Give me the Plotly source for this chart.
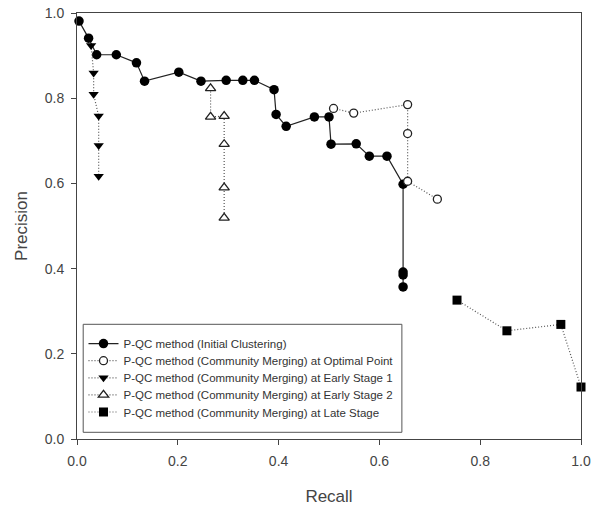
import plotly.graph_objects as go

# Initial clustering
init_x = [0.004, 0.023, 0.039, 0.078, 0.118, 0.134, 0.202, 0.246, 0.296, 0.329, 0.352,
          0.391, 0.395, 0.415, 0.471, 0.500, 0.504, 0.554, 0.580, 0.615, 0.647, 0.647, 0.647, 0.647]
init_y = [0.981, 0.941, 0.902, 0.902, 0.883, 0.840, 0.861, 0.840, 0.842, 0.842, 0.842,
          0.820, 0.762, 0.734, 0.756, 0.756, 0.692, 0.693, 0.664, 0.664, 0.598, 0.392, 0.385, 0.357]

# Community merging at optimal point
opt_x = [0.509, 0.549, 0.656, 0.656, 0.656, 0.715]
opt_y = [0.776, 0.765, 0.785, 0.717, 0.605, 0.563]

# Early stage 1
e1_x = [0.028, 0.033, 0.033, 0.043, 0.043, 0.043]
e1_y = [0.924, 0.859, 0.809, 0.758, 0.689, 0.617]

# Early stage 2
e2_x = [0.265, 0.265, 0.292, 0.292, 0.292, 0.292]
e2_y = [0.823, 0.756, 0.758, 0.692, 0.590, 0.519]

# Late stage
late_x = [0.754, 0.853, 0.960, 1.000]
late_y = [0.326, 0.254, 0.269, 0.122]

names = [
    "P-QC method (Initial Clustering)",
    "P-QC method (Community Merging) at Optimal Point",
    "P-QC method (Community Merging) at Early Stage 1",
    "P-QC method (Community Merging) at Early Stage 2",
    "P-QC method (Community Merging) at Late Stage",
]

FONT = "Liberation Sans, Arial, sans-serif"
dot_line = dict(color="#555555", width=1.2, dash="1px,2px")
legend_ids = ["legend", "legend2", "legend3", "legend4", "legend5"]

fig = go.Figure()
fig.add_trace(go.Scatter(x=init_x, y=init_y, mode="lines+markers", name=names[0],
                         legend=legend_ids[0], cliponaxis=False,
                         line=dict(color="#222222", width=1.2),
                         marker=dict(symbol="circle", size=9.5, color="black")))
fig.add_trace(go.Scatter(x=opt_x, y=opt_y, mode="lines+markers", name=names[1],
                         legend=legend_ids[1], cliponaxis=False,
                         line=dot_line,
                         marker=dict(symbol="circle", size=8, color="white",
                                     line=dict(color="#222222", width=1.3))))
fig.add_trace(go.Scatter(x=e1_x, y=e1_y, mode="lines+markers", name=names[2],
                         legend=legend_ids[2], cliponaxis=False,
                         line=dot_line,
                         marker=dict(symbol="triangle-down", size=9, color="black")))
fig.add_trace(go.Scatter(x=e2_x, y=e2_y, mode="lines+markers", name=names[3],
                         legend=legend_ids[3], cliponaxis=False,
                         line=dot_line,
                         marker=dict(symbol="triangle-up", size=9, color="white",
                                     line=dict(color="#222222", width=1.3))))
fig.add_trace(go.Scatter(x=late_x, y=late_y, mode="lines+markers", name=names[4],
                         legend=legend_ids[4], cliponaxis=False,
                         line=dot_line,
                         marker=dict(symbol="square", size=9, color="black")))

axis_common = dict(
    showline=True, linecolor="#444444", linewidth=1, mirror=True,
    ticks="outside", ticklen=5, tickcolor="#444444",
    showgrid=False, zeroline=False, automargin=False,
    ticklabeloverflow="allow",
    tickfont=dict(family=FONT, size=14, color="#444444"),
    title_font=dict(family=FONT, size=17, color="#444444"),
)

# page geometry (body margin removed by the post script)
W, H = 600, 507
PL, PR, PT, PB = 76.5, 581.0, 12.7, 438.7
L, T = PL, PT
R, B = W - PR, H - PB
pw, ph = PR - PL, PB - PT

def px_x(px):
    return (px - PL) / pw

def px_y(py):
    return (PB - py) / ph

legend_rows = [343.3, 360.4, 377.5, 394.6, 411.7]
layout_legends = {}
for lid, row in zip(legend_ids, legend_rows):
    layout_legends[lid] = dict(
        x=px_x(83), y=px_y(row), xanchor="left", yanchor="middle",
        bgcolor="rgba(0,0,0,0)", borderwidth=0,
        font=dict(family=FONT, size=11.5, color="#333333"),
        itemwidth=30,
    )

fig.update_layout(
    width=W, height=H,
    margin=dict(l=L, r=R, t=T, b=B),
    paper_bgcolor="white", plot_bgcolor="white",
    xaxis=dict(range=[0, 1], dtick=0.2, tickformat=".1f", ticklabelstandoff=4,
               title=dict(text="Recall", standoff=22), **axis_common),
    yaxis=dict(range=[0, 1], dtick=0.2, tickformat=".1f", ticklabelstandoff=4,
               title=dict(text="Precision", standoff=12), **axis_common),
    showlegend=True,
    shapes=[dict(type="rect", xref="paper", yref="paper",
                 x0=px_x(82.7), x1=px_x(401.7), y0=px_y(432), y1=px_y(324),
                 line=dict(color="#555555", width=1), fillcolor="white", layer="below")],
    **layout_legends,
)

fig.write_html("out.html",
               config={"displayModeBar": False},
               post_script="document.body.style.margin='0';document.body.style.overflow='hidden';")
